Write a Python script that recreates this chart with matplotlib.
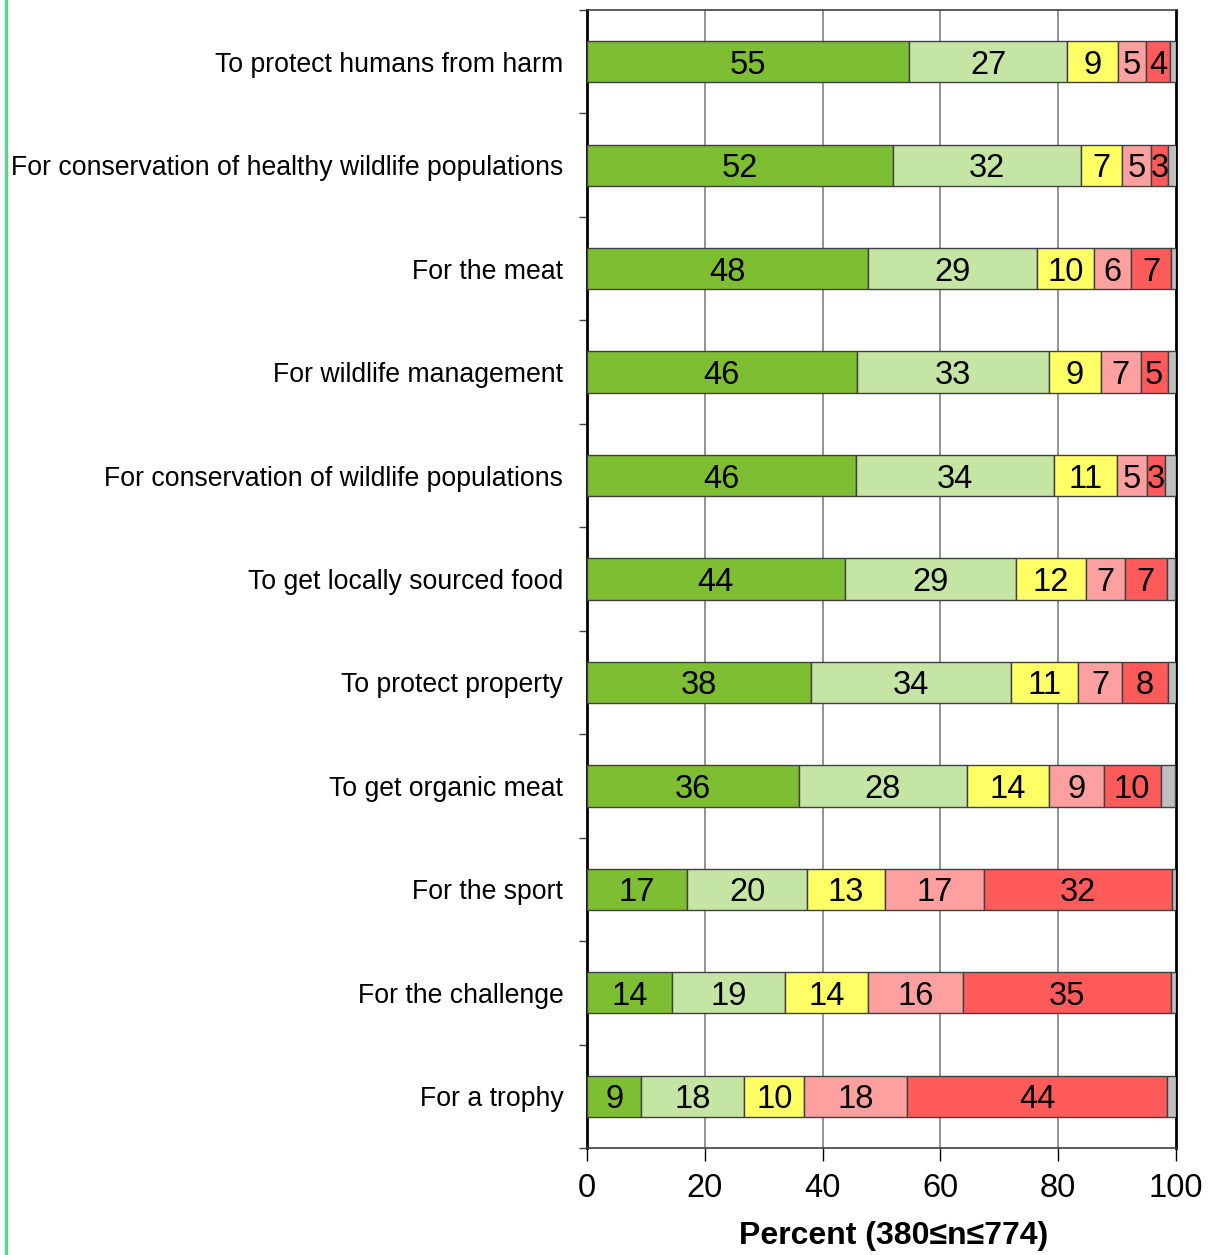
import numpy as np
import matplotlib
matplotlib.use('Agg')
import matplotlib.pyplot as plt
from matplotlib.lines import Line2D

plt.rcParams['font.family'] = ['Liberation Sans', 'DejaVu Sans']

# Data (percent) ---------------------------------------------------------------
reasons = ['To protect humans from harm',
           'For conservation of healthy wildlife populations',
           'For the meat',
           'For wildlife management',
           'For conservation of wildlife populations',
           'To get locally sourced food',
           'To protect property',
           'To get organic meat',
           'For the sport',
           'For the challenge',
           'For a trophy']

strongly_approve = [54.7, 52.0, 47.7, 45.8, 45.7, 43.8, 38.0, 36.0, 17.0, 14.4, 9.2]
moderately_approve = [26.8, 31.9, 28.7, 32.6, 33.6, 29.0, 34.0, 28.5, 20.4, 19.2, 17.5]
neither = [8.7, 7.0, 9.7, 8.8, 10.6, 11.9, 11.4, 13.9, 13.2, 14.1, 10.2]
moderately_disapprove = [4.7, 4.8, 6.3, 6.8, 5.1, 6.6, 7.4, 9.3, 16.8, 16.1, 17.5]
strongly_disapprove = [4.1, 3.0, 6.8, 4.6, 3.2, 7.1, 7.8, 9.7, 31.9, 35.4, 44.1]
dont_know = [1.0, 1.4, 0.8, 1.4, 1.8, 1.5, 1.4, 2.5, 0.7, 0.8, 1.5]

series = [strongly_approve, moderately_approve, neither,
          moderately_disapprove, strongly_disapprove, dont_know]
colors = ['#7DBE32', '#C4E5A4', '#FFFF66', '#FFA0A0', '#FF5B5B', '#BFBFBF']
show_labels = [True, True, True, True, True, False]

# Figure ----------------------------------------------------------------------
fig = plt.figure(figsize=(12.09, 12.55), dpi=100)
ax = fig.add_axes([0.4855, 0.0853, 0.4872, 0.9067])

ypos = np.arange(len(reasons))
left = np.zeros(len(reasons))
for vals, col, lab in zip(series, colors, show_labels):
    vals = np.array(vals)
    bars = ax.barh(ypos, vals, left=left, height=0.4, color=col,
                   edgecolor='#404040', linewidth=1, zorder=3)
    if lab:
        txts = ax.bar_label(bars, labels=['%d' % round(v) for v in vals],
                            label_type='center', fontsize=23.5, color='black')
        for t in txts:
            t.set_va('center_baseline')
    left = left + vals

ax.set_xlim(0, 100)
ax.set_ylim(len(reasons) - 0.5, -0.5)
ax.set_xticks(np.arange(0, 101, 20))
ax.tick_params(axis='x', labelsize=23.5, length=9, width=1, direction='out',
               color='black', pad=9)
for xg in [20, 40, 60, 80]:
    ax.axvline(xg, color='#808080', lw=1.2, zorder=1)

ax.set_yticks(ypos)
ax.set_yticklabels(reasons, fontsize=19.2)
ax.tick_params(axis='y', which='major', length=0, pad=17)
ax.set_yticks(np.arange(-0.5, len(reasons)), minor=True)
ax.tick_params(axis='y', which='minor', length=6, width=1, color='#404040',
               direction='out')

for side in ['left', 'right']:
    ax.spines[side].set_linewidth(2)
    ax.spines[side].set_color('black')
for side in ['top', 'bottom']:
    ax.spines[side].set_linewidth(1.2)
    ax.spines[side].set_color('#404040')

ax.set_xlabel('Percent (380\u2264n\u2264774)', fontsize=23, fontweight='bold')
ax.xaxis.set_label_coords(0.52, -0.064)

# thin green rule along the left edge
fig.add_artist(Line2D([5.5 / 1209, 5.5 / 1209], [0, 1], color='#5FCF8F',
                      lw=2.5, transform=fig.transFigure))

fig.savefig('out.png', dpi=100)
